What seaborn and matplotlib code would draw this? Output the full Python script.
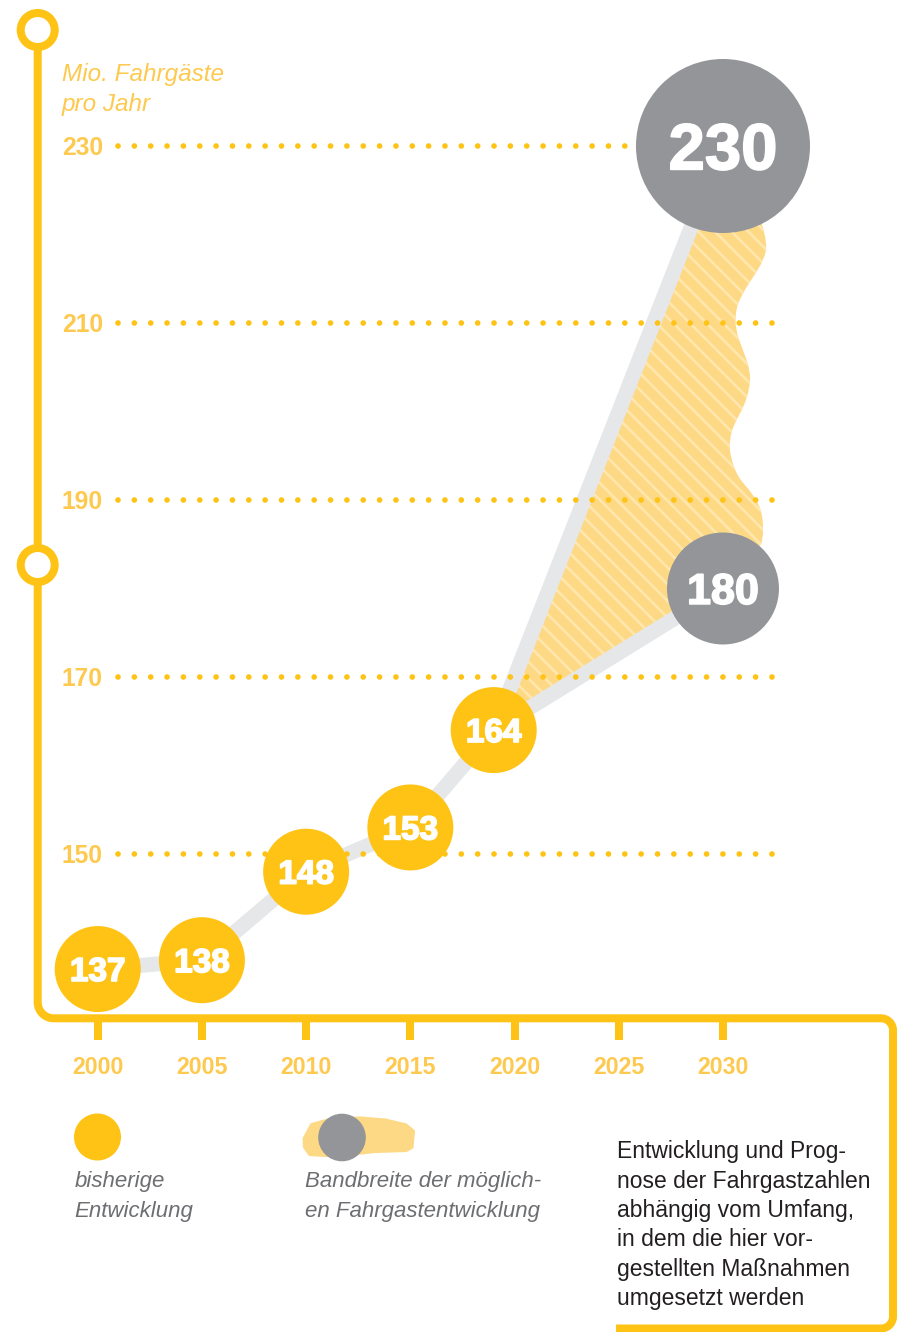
import numpy as np
import pandas as pd
import matplotlib
matplotlib.use("Agg")
import matplotlib.pyplot as plt
import seaborn as sns
from matplotlib.patches import Circle, Polygon, PathPatch
from matplotlib.path import Path
import matplotlib.patheffects as pe

# ---------------- data ----------------
hist_years = [2000, 2005, 2010, 2015, 2019]
hist_values = [137, 138, 148, 153, 164]
forecast_years = [2030, 2030]
forecast_values = [230, 180]
y_ticks = [150, 170, 190, 210, 230]
x_ticks = [2000, 2005, 2010, 2015, 2020, 2025, 2030]
# wavy right edge of the forecast range band (year, value)
band_edge_years = [2031.85, 2032.15, 2031.95, 2031.45, 2030.95, 2030.6, 2030.6, 2030.95,
                   2031.3, 2031.3, 2031.0, 2030.55, 2030.3, 2030.35, 2030.7, 2031.4,
                   2031.85, 2031.95, 2031.85]
band_edge_values = [221.3, 219.0, 217.1, 215.2, 213.4, 211.5, 209.2, 207.0,
                    204.7, 202.8, 200.5, 198.7, 196.8, 194.9, 192.6, 190.8,
                    188.9, 186.6, 185.1]
axis_title = ["Mio. Fahrgäste", "pro Jahr"]
legend_hist = ["bisherige", "Entwicklung"]
legend_band = ["Bandbreite der möglich-", "en Fahrgastentwicklung"]
note_lines = ["Entwicklung und Prog-", "nose der Fahrgastzahlen", "abhängig vom Umfang,",
              "in dem die hier vor-", "gestellten Maßnahmen", "umgesetzt werden"]

# ---------------- style ----------------
YELLOW = "#fec314"
LABEL_YELLOW = "#fdc94e"
GREY = "#939598"
LINE_GREY = "#e6e7e8"
BAND = "#fed985"
HATCH = "#ffe7b0"
TEXT_GREY = "#6d6e71"
TEXT_DARK = "#231f20"

sns.set_theme(style="white")
plt.rcParams["font.family"] = ["Liberation Sans", "DejaVu Sans"]
plt.rcParams["hatch.linewidth"] = 1.8

W, H = 897, 1332
fig = plt.figure(figsize=(W / 100, H / 100), dpi=100)
fig.patch.set_facecolor("white")

# background overlay in pixel units (for frame, legend, notes)
bg = fig.add_axes([0, 0, 1, 1], zorder=0)
bg.set_xlim(0, W)
bg.set_ylim(H, 0)
bg.axis("off")

px_left, px_right, px_top, px_bottom = 37.7, 893.0, 30.0, 1018.3
ax = fig.add_axes([px_left / W, 1 - px_bottom / H, (px_right - px_left) / W,
                   (px_bottom - px_top) / H], zorder=1)
ax.patch.set_alpha(0)
ax.set_xlim(1997.121, 2038.157)
ax.set_ylim(131.435, 243.107)
for s in ax.spines.values():
    s.set_visible(False)

# band of possible development (smooth wavy edge via quadratic curve segments)
edge = list(zip(band_edge_years, band_edge_values))
verts = [(hist_years[-1], hist_values[-1]), (forecast_years[0], forecast_values[0]), edge[0]]
codes = [Path.MOVETO, Path.LINETO, Path.LINETO]
for i in range(1, len(edge) - 1):
    mid = ((edge[i][0] + edge[i + 1][0]) / 2, (edge[i][1] + edge[i + 1][1]) / 2)
    verts += [edge[i], mid]
    codes += [Path.CURVE3, Path.CURVE3]
verts += [edge[-1], (forecast_years[1], forecast_values[1]),
          (hist_years[-1], hist_values[-1])]
codes += [Path.LINETO, Path.LINETO, Path.CLOSEPOLY]
ax.add_patch(PathPatch(Path(verts, codes), facecolor=BAND, edgecolor=HATCH, lw=0,
                       hatch="\\\\", zorder=1))

# connecting lines
hist_df = pd.DataFrame({"year": hist_years, "value": hist_values})
sns.lineplot(data=hist_df, x="year", y="value", color=LINE_GREY, lw=10.8, ax=ax,
             zorder=2, solid_joinstyle="round", solid_capstyle="round")
for fv in forecast_values:
    seg = pd.DataFrame({"year": [hist_years[-1], forecast_years[0]],
                        "value": [hist_values[-1], fv]})
    sns.lineplot(data=seg, x="year", y="value", color=LINE_GREY, lw=10.8, ax=ax,
                 zorder=2, solid_capstyle="round")

# dotted gridlines
ax.hlines(y_ticks, 2000.97, 2032.6, colors=YELLOW, linewidth=4.1,
          linestyles=[(0, (0.001, 2.87))], capstyle="round", zorder=3)

# circles
sns.scatterplot(data=hist_df, x="year", y="value", s=3832, color=YELLOW,
                edgecolor="none", linewidth=0, ax=ax, zorder=4, legend=False)
fc_df = pd.DataFrame({"year": forecast_years, "value": forecast_values})
sns.scatterplot(data=fc_df, x="year", y="value", size="value", sizes=(6500, 15700),
                size_norm=(180, 230), color=GREY, edgecolor="none", linewidth=0,
                ax=ax, zorder=4, legend=False)

stroke = [pe.withStroke(linewidth=1.2, foreground="white")]
for x, v in zip(hist_years, hist_values):
    ax.annotate(str(v), (x, v), xytext=(0, -0.358 * 24), textcoords="offset points",
                ha="center", va="baseline", color="white", fontsize=24,
                fontweight="bold", zorder=5, path_effects=stroke)
for x, v, fs in zip(forecast_years, forecast_values, [47, 31]):
    ax.annotate(str(v), (x, v), xytext=(0, -0.358 * fs), textcoords="offset points",
                ha="center", va="baseline", color="white", fontsize=fs,
                fontweight="bold", zorder=5, path_effects=stroke)

# ticks
ax.set_xlabel("")
ax.set_ylabel("")
ax.set_xticks(x_ticks)
ax.set_xticklabels([str(t) for t in x_ticks])
ax.tick_params(axis="x", bottom=True, length=16.1, width=5.76, color=YELLOW,
               direction="out", pad=11, labelsize=16.7, labelcolor=LABEL_YELLOW)
ax.set_yticks(y_ticks)
ax.set_yticklabels([str(t) for t in y_ticks])
ax.tick_params(axis="y", left=True, length=0, pad=-47, labelsize=17.7,
               labelcolor=LABEL_YELLOW)
for lbl in ax.get_xticklabels() + ax.get_yticklabels():
    lbl.set_fontweight("bold")
ax.grid(False)

# ---------------- frame ----------------
def arc(cx, cy, r, a0, a1, n=24):
    t = np.radians(np.linspace(a0, a1, n))
    return list(cx + r * np.cos(t)), list(cy + r * np.sin(t))

fx, fy = [px_left], [px_top]
for cx, cy, r, a0, a1 in [(px_left + 16, px_bottom - 16, 16, 180, 90),
                          (893 - 12, px_bottom + 12, 12, -90, 0),
                          (893 - 12, 1328.5 - 12, 12, 0, 90)]:
    ax_, ay_ = arc(cx, cy, r, a0, a1)
    fx += ax_
    fy += ay_
fx.append(616)
fy.append(1328.5)
bg.plot(fx, fy, color=YELLOW, lw=5.76, solid_joinstyle="round", solid_capstyle="butt")

for ry in [px_top, 565]:
    bg.add_patch(Circle((px_left, ry), 17, facecolor="white", edgecolor=YELLOW,
                        lw=5.76, zorder=3))

# axis title
for i, t in enumerate(axis_title):
    bg.text(61.7, 81 + 30 * i, t, style="italic", fontsize=17.5, color=LABEL_YELLOW,
            ha="left", va="baseline")

# legend
bg.add_patch(Circle((97.5, 1137), 23.5, facecolor=YELLOW, edgecolor="none"))
blob = [(304.7, 1138.5), (312, 1125), (330, 1120), (360, 1118.5), (385, 1120.5),
        (405.5, 1125.3), (413, 1131.5), (411.5, 1147), (406, 1150),
        (374, 1151), (335, 1155.5), (310, 1154), (305, 1147)]
bg.add_patch(Polygon(blob, closed=True, facecolor=BAND, edgecolor=BAND, lw=3,
                     joinstyle="round"))
bg.add_patch(Circle((342, 1137.5), 23.8, facecolor=GREY, edgecolor="none"))
for i, t in enumerate(legend_hist):
    bg.text(74.5, 1187.3 + 30 * i, t, style="italic", fontsize=16, color=TEXT_GREY,
            ha="left", va="baseline")
for i, t in enumerate(legend_band):
    bg.text(305, 1187.3 + 30 * i, t, style="italic", fontsize=16, color=TEXT_GREY,
            ha="left", va="baseline")

# note
for i, t in enumerate(note_lines):
    bg.text(616.7, 1158.3 + 29.35 * i, t, fontsize=16.5, color=TEXT_DARK,
            ha="left", va="baseline")

fig.savefig("out.png", dpi=100)
